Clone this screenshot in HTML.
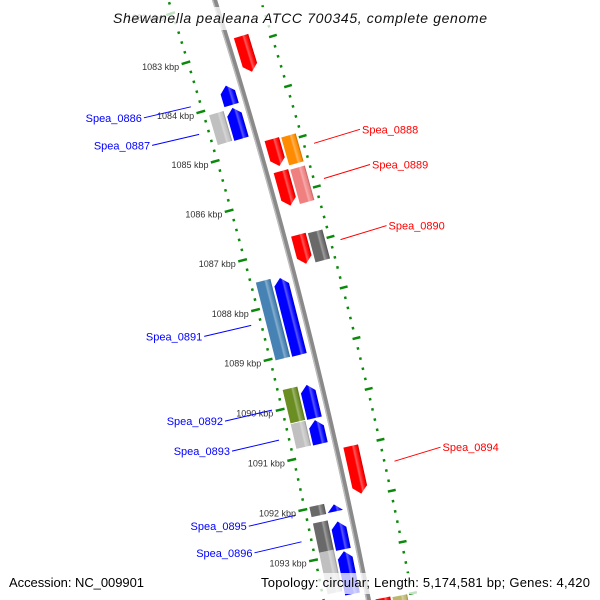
<!DOCTYPE html>
<html><head><meta charset="utf-8"><style>
html,body{margin:0;padding:0;background:#fff;width:600px;height:600px;overflow:hidden;}
svg{display:block;overflow:hidden;}
text{font-family:"Liberation Sans",sans-serif;}
</style></head><body>
<svg id="map" width="600" height="600" viewBox="0 0 600 600" xmlns="http://www.w3.org/2000/svg">
<defs id="defs"></defs>
<g id="ticks"></g>
<g id="backbone"></g>
<g id="genes"></g>
<g id="labels"></g>
<rect x="0" y="7" width="600" height="23" fill="#fff" opacity="0.75"/>
<rect x="0" y="573" width="600" height="21" fill="#fff" opacity="0.75"/>
<text x="300" y="23" text-anchor="middle" font-size="14" font-style="italic" fill="#111" textLength="374">Shewanella pealeana ATCC 700345, complete genome</text>
<text x="9" y="587" font-size="13" fill="#000" textLength="135">Accession: NC_009901</text>
<text x="261" y="587" font-size="13" fill="#000" textLength="329">Topology: circular; Length: 5,174,581 bp; Genes: 4,420</text>
</svg>
<script>
// ---- data ----
const tickKbp = [1082,1083,1084,1085,1086,1087,1088,1089,1090,1091,1092,1093,1094];
const geneStart = [1082.82,1083.65,1084.10,1084.11,1084.89,1084.91,1085.53,1085.55,1086.80,1086.82,1087.49,1087.52,1089.64,1090.32,1089.65,1090.35,1090.99,1091.97,1092.02,1092.30,1092.88,1092.36,1092.95,1093.98,1094.00];
const geneEnd   = [1083.54,1084.04,1084.72,1084.71,1085.43,1085.47,1086.22,1086.24,1087.38,1087.40,1089.04,1089.05,1090.30,1090.81,1090.31,1090.82,1091.93,1092.17,1092.16,1092.88,1093.70,1092.91,1093.79,1094.50,1094.50];
const geneLane  = [1,-1,-1,-2,1,2,1,2,1,2,-2,-1,-2,-2,-1,-1,1,-2,-1,-2,-2,-1,-1,1,2];
const geneColor = ["#ff0000","#0000ff","#0000ff","#c0c0c0","#ff0000","#ff8c00","#ff0000","#f08080","#ff0000","#696969","#4682b4","#0000ff","#6b8e23","#c0c0c0","#0000ff","#0000ff","#ff0000","#696969","#0000ff","#696969","#c0c0c0","#0000ff","#0000ff","#ff0000","#bdb76b"];
const labelNames = ["Spea_0886","Spea_0887","Spea_0888","Spea_0889","Spea_0890","Spea_0891","Spea_0892","Spea_0893","Spea_0894","Spea_0895","Spea_0896"];
const labelKbp   = [1083.85,1084.41,1085.19,1085.89,1087.10,1088.27,1089.97,1090.57,1091.46,1092.07,1092.60];
const labelSide  = [-1,-1,1,1,1,-1,-1,-1,1,-1,-1];

// ---- geometry ----
const CX=-5045, CY=1669, R=5518;
const NS="http://www.w3.org/2000/svg";
function theta(k){return (-17.07+0.538*(k-1083))*Math.PI/180;}
function pt(k,v){const t=theta(k),r=R+v;return [CX+r*Math.cos(t),CY+r*Math.sin(t)];}
function deg(k){return -17.07+0.538*(k-1083);}
function mk(tag,attrs,parent){const e=document.createElementNS(NS,tag);for(const a in attrs)e.setAttribute(a,attrs[a]);parent.appendChild(e);return e;}
function shade(hex,f){const n=parseInt(hex.slice(1),16);let r=n>>16,g=(n>>8)&255,b=n&255;
  if(f>0){r+= (255-r)*f;g+=(255-g)*f;b+=(255-b)*f;}else{r*=1+f;g*=1+f;b*=1+f;}
  return "rgb("+Math.round(r)+","+Math.round(g)+","+Math.round(b)+")";}

const defs=document.getElementById('defs');
const made={};
function grad(c){
  const id="g"+c.slice(1);
  if(made[id])return id; made[id]=1;
  const g=mk('linearGradient',{id:id,x1:0,y1:0,x2:1,y2:0},defs);
  [[0,shade(c,0)],[0.55,shade(c,0)],[0.65,shade(c,0.35)],[0.8,shade(c,0.1)],[0.9,shade(c,0)],[1,shade(c,-0.25)]]
    .forEach(s=>mk('stop',{offset:s[0],'stop-color':s[1]},g));
  return id;
}

// ---- ruler ----
const tk=document.getElementById('ticks');
const kMin=1081.8,kMax=1094.8;
function dot(k,v,w,h,name){
  const p=pt(k,v);
  const r=mk('rect',{x:-w/2,y:-h/2,width:w,height:h,fill:'#0a8a0a',transform:`translate(${p[0].toFixed(2)},${p[1].toFixed(2)}) rotate(${deg(k).toFixed(3)})`},tk);
  
  
}
for(let i=0;;i++){
  const k=1082+i*0.2-0.2*Math.floor((1082-kMin)/0.2);
  if(k>kMax)break;
  if(Math.abs(k-Math.round(k))<0.01)continue;
  dot(k,-44,2.5,2.5,'inner-minor-tick');
  dot(k,44,2.5,2.5,'outer-minor-tick');
}
tickKbp.forEach(k=>{
  dot(k,-46,9,2.5,'inner-major-tick');
  dot(k,45,8,2.5,'outer-major-tick');
  const p=pt(k,-53);
  const t=mk('text',{x:p[0].toFixed(1),y:(p[1]+5).toFixed(1),'text-anchor':'end','font-size':9,fill:'#333'},tk);
  t.textContent=k+" kbp";
  
  
});

// ---- backbone ----
const bb=document.getElementById('backbone');
function arc(v){let d="";for(let k=kMin;k<=kMax;k+=0.25){const p=pt(k,v);d+=(d?"L":"M")+p[0].toFixed(2)+","+p[1].toFixed(2);}return d;}
const b1=mk('path',{d:arc(0),stroke:'#8a8a8a','stroke-width':5,fill:'none'},bb);


const b2=mk('path',{d:arc(-1.8),stroke:'#bdbdbd','stroke-width':1.4,fill:'none'},bb);



// ---- genes ----
const gg=document.getElementById('genes');
const pxPerKbp=R*0.538*Math.PI/180;
geneStart.forEach((s,i)=>{
  const e=geneEnd[i], lane=geneLane[i], km=(s+e)/2;
  const L=(e-s)*pxPerKbp;
  const a=Math.abs(lane);
  let v0=a===1?7:24, v1=a===1?22:39;
  if(lane<0){const t=v0;v0=-v1;v1=-t;}
  const vm=(v0+v1)/2, p=pt(km,0);
  const g=mk('g',{transform:`translate(${p[0].toFixed(2)},${p[1].toFixed(2)}) rotate(${deg(km).toFixed(3)})`},gg);
  
  
  const fill="url(#"+grad(geneColor[i])+")";
  let pts;
  const y0=-L/2,y1=L/2;
  if(a===2){
    pts=[[v0,y0],[v1,y0],[v1,y1],[v0,y1]];
  } else {
    const h=Math.min(7,L);
    if(lane>0) pts=[[v0,y0],[v1,y0],[v1,y1-h],[vm,y1],[v0,y1-h]];
    else pts=[[vm,y0],[v1,y0+h],[v1,y1],[v0,y1],[v0,y0+h]];
  }
  mk('polygon',{points:pts.map(q=>q[0].toFixed(2)+","+q[1].toFixed(2)).join(" "),fill:fill},g);
});

// ---- labels ----
const lg=document.getElementById('labels');
labelNames.forEach((n,i)=>{
  const side=labelSide[i], col=side<0?'#0000ff':'#ff0000';
  const a=pt(labelKbp[i],side*54);
  const b=side<0?[a[0]-47,a[1]+11]:[a[0]+46,a[1]-14];
  const l=mk('line',{x1:a[0].toFixed(1),y1:a[1].toFixed(1),x2:b[0].toFixed(1),y2:b[1].toFixed(1),stroke:col,'stroke-width':1},lg);
  
  
  const t=mk('text',{x:(b[0]+(side<0?-2:2)).toFixed(1),y:(b[1]+4).toFixed(1),'text-anchor':side<0?'end':'start','font-size':11,fill:col},lg);
  t.textContent=n;
  
  
});
</script>
</body></html>
